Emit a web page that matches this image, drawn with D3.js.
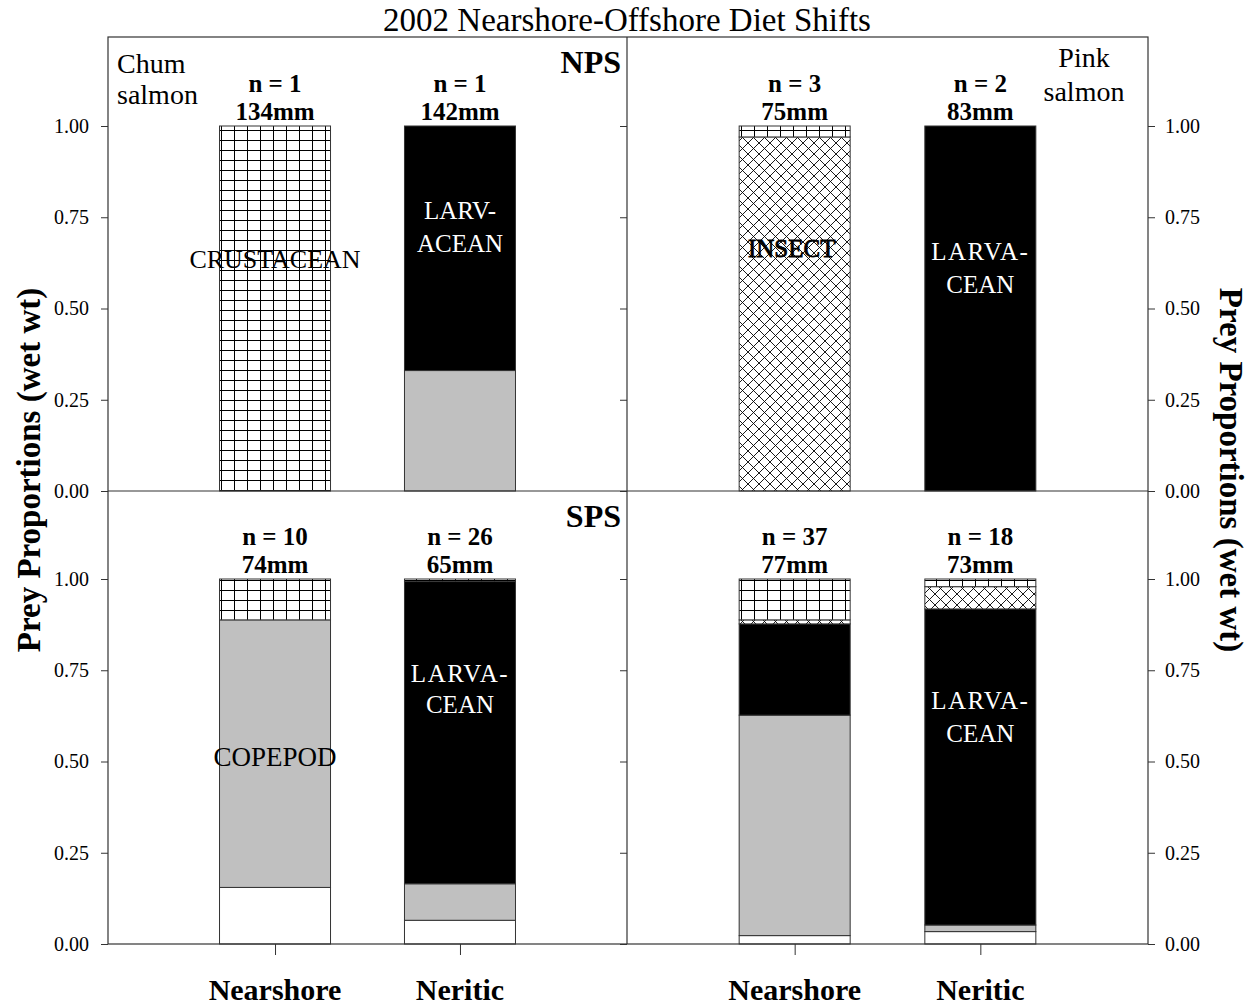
<!DOCTYPE html>
<html><head><meta charset="utf-8">
<script src="https://cdn.jsdelivr.net/npm/d3@7"></script>
<style>
body{margin:0;background:#fff;}
text{font-family:"Liberation Serif","Times New Roman",serif;}
</style></head>
<body><svg id="c" width="1250" height="1006"></svg>
<script>
// ---- data ----
const categories = ["Nearshore", "Neritic"];
const preyTypes = ["Other", "Copepod", "Larvacean", "Insect", "Crustacean"];
const yTicks = [0, 0.25, 0.5, 0.75, 1.0];
// proportions per category, in preyTypes order (bottom to top)
const chumNPS = [[0, 0, 0, 0, 1.00], [0, 0.33, 0.67, 0, 0]];
const pinkNPS = [[0, 0, 0, 0.97, 0.03], [0, 0, 1.00, 0, 0]];
const chumSPS = [[0.155, 0.733, 0, 0, 0.112], [0.065, 0.10, 0.828, 0, 0.007]];
const pinkSPS = [[0.023, 0.604, 0.25, 0.011, 0.112], [0.034, 0.018, 0.866, 0.061, 0.021]];
const nChumNPS = ["n = 1", "n = 1"], lenChumNPS = ["134mm", "142mm"];
const nPinkNPS = ["n = 3", "n = 2"], lenPinkNPS = ["75mm", "83mm"];
const nChumSPS = ["n = 10", "n = 26"], lenChumSPS = ["74mm", "65mm"];
const nPinkSPS = ["n = 37", "n = 18"], lenPinkSPS = ["77mm", "73mm"];

const svg = d3.select("#c");
const defs = svg.append("defs");
// grid pattern (crustacean)
const pg = defs.append("pattern").attr("id", "grid").attr("patternUnits", "userSpaceOnUse")
  .attr("width", 13).attr("height", 10);
pg.append("rect").attr("width", 13).attr("height", 10).attr("fill", "#fff");
pg.append("path").attr("d", "M0.5,0 V10 M0,0.5 H13").attr("stroke", "#000").attr("stroke-width", 1);
// crosshatch pattern (insect)
const px = defs.append("pattern").attr("id", "xh").attr("patternUnits", "userSpaceOnUse")
  .attr("width", 11).attr("height", 11);
px.append("rect").attr("width", 11).attr("height", 11).attr("fill", "#fff");
px.append("path").attr("d", "M0,0 L11,11 M11,0 L0,11").attr("stroke", "#000").attr("stroke-width", 0.9);

const fills = {Other: "#fff", Copepod: "#c0c0c0", Larvacean: "#000", Insect: "url(#xh)", Crustacean: "url(#grid)"};

const L = 108, M = 627, R = 1148, T = 37, MID = 491, B = 944;
const padP = 0.903, barW = 111;

const panels = [
  {x0: L, x1: M, y0: T, y1: MID, data: chumNPS, n: nChumNPS, len: lenChumNPS},
  {x0: M, x1: R, y0: T, y1: MID, data: pinkNPS, n: nPinkNPS, len: lenPinkNPS},
  {x0: L, x1: M, y0: MID, y1: B, data: chumSPS, n: nChumSPS, len: lenChumSPS},
  {x0: M, x1: R, y0: MID, y1: B, data: pinkSPS, n: nPinkSPS, len: lenPinkSPS}
];

panels.forEach((p, pi) => {
  p.x = d3.scalePoint().domain(categories).range([p.x0, p.x1]).padding(padP);
  p.y = d3.scaleLinear().domain([0, 1]).range([p.y1, p.y1 - 365]);
  const g = svg.append("g");
  const stack = d3.stack().keys(preyTypes.map((d, i) => i))(p.data);
  stack.forEach((layer, li) => {
    layer.forEach((seg, ci) => {
      if (seg[1] - seg[0] <= 0) return;
      const cx = p.x(categories[ci]);
      g.append("rect")
        .attr("x", cx - barW / 2).attr("width", barW)
        .attr("y", p.y(seg[1])).attr("height", p.y(seg[0]) - p.y(seg[1]))
        .attr("fill", fills[preyTypes[li]])
        .attr("stroke", "#333").attr("stroke-width", 1);
    });
  });
  categories.forEach((c, ci) => {
    const cx = p.x(c);
    g.append("text").attr("x", cx).attr("y", p.y(1) - 34).attr("text-anchor", "middle")
      .attr("font-size", 25).attr("font-weight", "bold").text(p.n[ci]);
    g.append("text").attr("x", cx).attr("y", p.y(1) - 6).attr("text-anchor", "middle")
      .attr("font-size", 25).attr("font-weight", "bold").text(p.len[ci]);
  });
});

// frames
const frame = svg.append("g").attr("stroke", "#333").attr("stroke-width", 1.2).attr("fill", "none");
frame.append("rect").attr("x", L).attr("y", T).attr("width", R - L).attr("height", B - T);
frame.append("line").attr("x1", M).attr("x2", M).attr("y1", T).attr("y2", B);
frame.append("line").attr("x1", L).attr("x2", R).attr("y1", MID).attr("y2", MID);

// axes
function styleAxis(sel) {
  sel.select(".domain").remove();
  sel.selectAll(".tick line").attr("stroke", "#333");
  sel.selectAll(".tick text").attr("font-family", "Liberation Serif").attr("font-size", 20).attr("fill", "#000");
}
panels.forEach((p, pi) => {
  const left = pi % 2 === 0;
  const fmt = d3.format(".2f");
  if (left) {
    svg.append("g").attr("transform", `translate(${L},0)`)
      .call(d3.axisLeft(p.y).tickValues(yTicks).tickFormat(fmt).tickSize(7).tickPadding(12)).call(styleAxis);
    svg.append("g").attr("transform", `translate(${M},0)`)
      .call(d3.axisLeft(p.y).tickValues(yTicks).tickFormat("").tickSize(7)).call(styleAxis);
  } else {
    svg.append("g").attr("transform", `translate(${R},0)`)
      .call(d3.axisRight(p.y).tickValues(yTicks).tickFormat(fmt).tickSize(7).tickPadding(10)).call(styleAxis);
  }
  if (pi >= 2) {
    svg.append("g").attr("transform", `translate(0,${B})`)
      .call(d3.axisBottom(p.x).tickFormat("").tickSize(11)).call(styleAxis);
    categories.forEach(c => {
      svg.append("text").attr("x", p.x(c)).attr("y", 1000).attr("text-anchor", "middle")
        .attr("font-size", 30).attr("font-weight", "bold").text(c);
    });
  }
});

// in-bar labels
function lbl(x, y, t, color, opts = {}) {
  const e = svg.append("text").attr("x", x).attr("y", y).attr("text-anchor", "middle")
    .attr("font-size", opts.size || 25).attr("fill", color).text(t);
  if (opts.ls) e.attr("letter-spacing", opts.ls);
  if (opts.stroke) e.attr("stroke", color).attr("stroke-width", opts.stroke);
  return e;
}
const p0 = panels[0], p1 = panels[1], p2 = panels[2], p3 = panels[3];
lbl(p0.x("Nearshore"), 268, "CRUSTACEAN", "#000", {size: 26});
lbl(p0.x("Neritic"), 219, "LARV-", "#fff");
lbl(p0.x("Neritic"), 252, "ACEAN", "#fff");
lbl(p1.x("Nearshore") - 3, 257, "INSECT", "#000", {stroke: 0.8});
lbl(p1.x("Neritic"), 260, "LARVA-", "#fff", {ls: 1.5});
lbl(p1.x("Neritic"), 293, "CEAN", "#fff");
lbl(p2.x("Nearshore"), 766, "COPEPOD", "#000", {size: 27});
lbl(p2.x("Neritic"), 682, "LARVA-", "#fff", {ls: 1.5});
lbl(p2.x("Neritic"), 713, "CEAN", "#fff");
lbl(p3.x("Neritic"), 709, "LARVA-", "#fff", {ls: 1.5});
lbl(p3.x("Neritic"), 742, "CEAN", "#fff");

// panel annotations
svg.append("text").attr("x", 117).attr("y", 73).attr("font-size", 28).text("Chum");
svg.append("text").attr("x", 117).attr("y", 104).attr("font-size", 28).text("salmon");
svg.append("text").attr("x", 1084).attr("y", 67).attr("font-size", 28).attr("text-anchor", "middle").text("Pink");
svg.append("text").attr("x", 1084).attr("y", 101).attr("font-size", 28).attr("text-anchor", "middle").text("salmon");
svg.append("text").attr("x", 621).attr("y", 73).attr("font-size", 32).attr("font-weight", "bold").attr("text-anchor", "end").text("NPS");
svg.append("text").attr("x", 621).attr("y", 527).attr("font-size", 32).attr("font-weight", "bold").attr("text-anchor", "end").text("SPS");

// titles
svg.append("text").attr("x", 627).attr("y", 31).attr("font-size", 33).attr("text-anchor", "middle")
  .text("2002 Nearshore-Offshore Diet Shifts");
svg.append("text").attr("transform", "translate(40,470) rotate(-90)").attr("font-size", 33)
  .attr("font-weight", "bold").attr("text-anchor", "middle").text("Prey Proportions (wet wt)");
svg.append("text").attr("transform", "translate(1220,470) rotate(90)").attr("font-size", 33)
  .attr("font-weight", "bold").attr("text-anchor", "middle").text("Prey Proportions (wet wt)");
</script></body></html>
